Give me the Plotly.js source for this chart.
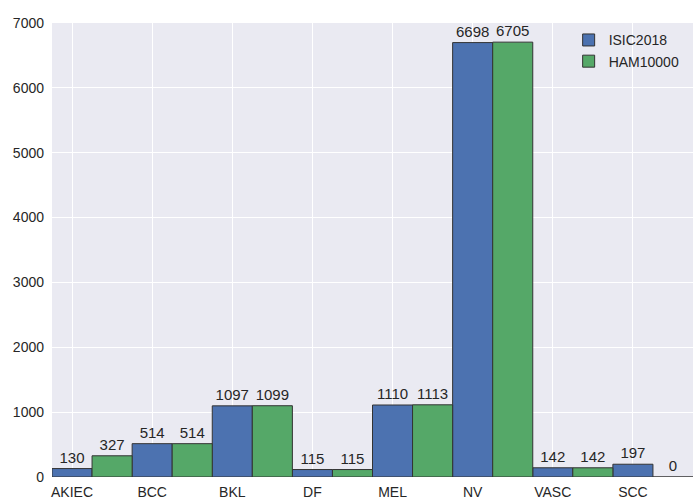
<!DOCTYPE html>
<html>
<head>
<meta charset="utf-8">
<script src="https://cdn.plot.ly/plotly-3.0.1.min.js"></script>
<style>html,body{margin:0;padding:0;background:#fff;}#chart{width:693px;height:504px;}</style>
</head>
<body>
<div id="chart"></div>
<script>
const categories = ["AKIEC", "BCC", "BKL", "DF", "MEL", "NV", "VASC", "SCC"];
const isic2018 = [130, 514, 1097, 115, 1110, 6698, 142, 197];
const ham10000 = [327, 514, 1099, 115, 1113, 6705, 142, 0];
const yTicks = [0, 1000, 2000, 3000, 4000, 5000, 6000, 7000];

const idx = categories.map((_, i) => i);
const font = {family: "'Liberation Sans', Arial, sans-serif", size: 14, color: "#262626"};

const traces = [
  {
    type: "bar", name: "ISIC2018",
    x: idx, y: isic2018, width: 0.5, offset: -0.25,
    text: isic2018.map(String), textposition: "outside", cliponaxis: false,
    textfont: {family: font.family, size: 15, color: "#262626"},
    marker: {color: "#4C72B0", line: {color: "#333333", width: 1}},
    hoverinfo: "x+y"
  },
  {
    type: "bar", name: "HAM10000",
    x: idx.map(i => i + 0.5), y: ham10000, width: 0.5, offset: -0.25,
    text: ham10000.map(String), textposition: "outside", cliponaxis: false,
    textfont: {family: font.family, size: 15, color: "#262626"},
    marker: {color: "#55A868", line: {color: "#333333", width: 1}},
    hoverinfo: "x+y"
  }
];

const layout = {
  width: 693, height: 504,
  margin: {l: 52, r: 0, t: 23, b: 27, pad: 0, autoexpand: false},
  paper_bgcolor: "#ffffff",
  plot_bgcolor: "#EAEAF2",
  font: font,
  barmode: "overlay",
  showlegend: true,
  legend: {
    x: 0.806, y: 0.997, xanchor: "left", yanchor: "top",
    bgcolor: "rgba(0,0,0,0)", borderwidth: 0,
    font: {family: font.family, size: 14, color: "#262626"},
    tracegroupgap: 3
  },
  xaxis: {
    range: [-0.25, 7.75],
    tickmode: "array", tickvals: idx, ticktext: categories,
    showgrid: true, gridcolor: "#ffffff", gridwidth: 1,
    zeroline: false, showline: false, ticks: "", ticklen: 0,
    ticklabelstandoff: 5,
    tickfont: font
  },
  yaxis: {
    range: [0, 7000],
    tickmode: "array", tickvals: yTicks, ticktext: yTicks.map(String),
    showgrid: true, gridcolor: "#ffffff", gridwidth: 1,
    zeroline: false, showline: false, ticks: "", ticklen: 0,
    ticklabelstandoff: 7,
    tickfont: font
  }
};

Plotly.newPlot("chart", traces, layout, {displayModeBar: false, staticPlot: true});
</script>
</body>
</html>
